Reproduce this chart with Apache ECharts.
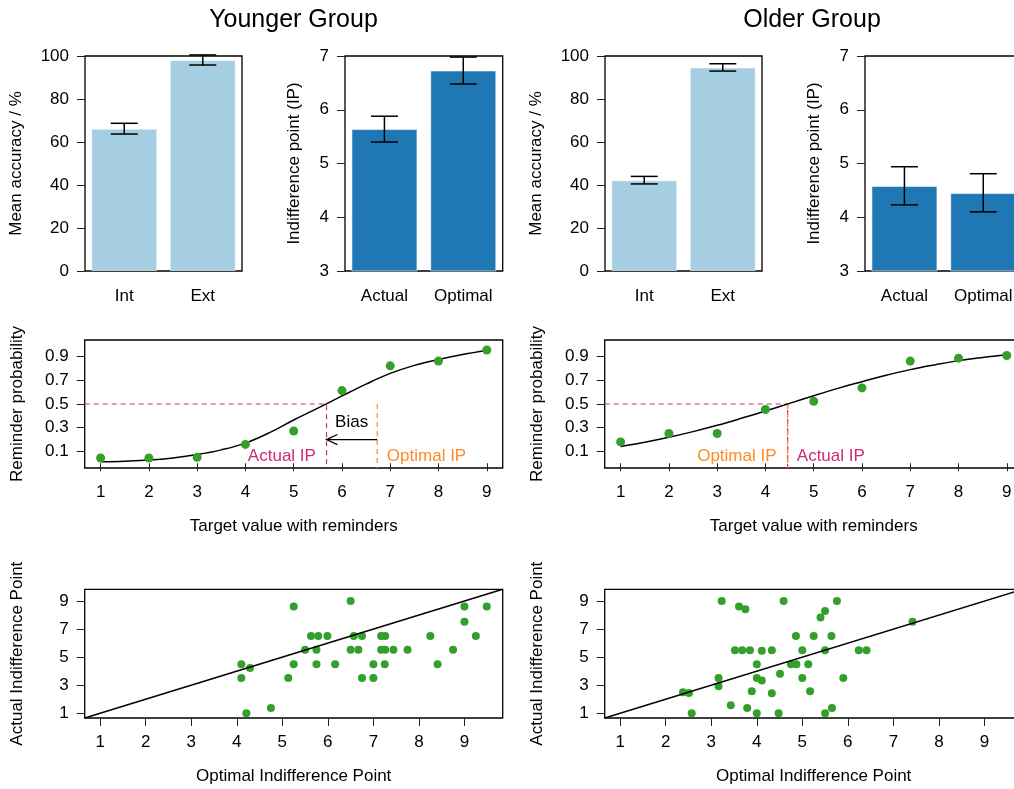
<!DOCTYPE html>
<html>
<head>
<meta charset="utf-8">
<script src="https://cdn.jsdelivr.net/npm/echarts@6/dist/echarts.min.js"></script>
<style>
html,body{margin:0;padding:0;background:#fff;}
#chart{width:1014px;height:789px;}
</style>
</head>
<body>
<div id="chart"></div>
<script>
// ---------------- data ----------------
const accCategories = ['Int', 'Ext'];
const ipCategories = ['Actual', 'Optimal'];

const youngAcc   = [66.2, 98.1];
const youngAccLo = [63.7, 95.8];
const youngAccHi = [68.7, 100.5];
const youngIP    = [5.64, 6.73];
const youngIPLo  = [5.40, 6.48];
const youngIPHi  = [5.88, 6.98];

const oldAcc   = [42.2, 94.7];
const oldAccLo = [40.5, 93.0];
const oldAccHi = [44.0, 96.4];
const oldIP    = [4.58, 4.45];
const oldIPLo  = [4.23, 4.10];
const oldIPHi  = [4.94, 4.81];

const targetValues = [1, 2, 3, 4, 5, 6, 7, 8, 9];
const youngProb = [0.044, 0.044, 0.05, 0.159, 0.272, 0.613, 0.822, 0.862, 0.956];
const oldProb   = [0.18, 0.251, 0.251, 0.454, 0.523, 0.636, 0.862, 0.887, 0.909];

const curveX     = [1, 1.5, 2, 2.5, 3, 3.5, 4, 4.5, 5, 5.5, 6, 6.5, 7, 7.5, 8, 8.5, 9];
const youngCurve = [0.013, 0.018, 0.027, 0.045, 0.073, 0.113, 0.17, 0.258, 0.365, 0.465, 0.568, 0.668, 0.758, 0.826, 0.876, 0.918, 0.952];
const oldCurve   = [0.142, 0.178, 0.22, 0.267, 0.32, 0.379, 0.441, 0.505, 0.57, 0.632, 0.688, 0.742, 0.79, 0.83, 0.866, 0.893, 0.915];

const youngActualIP = 5.68, youngOptimalIP = 6.73;
const oldActualIP = 4.46, oldOptimalIP = 4.46;
const criterion = 0.5;
const biasArrowY = 0.2;

const youngOptimalX = [5.25, 6.50, 9.00, 9.49, 9.00, 5.63, 5.79, 5.99, 6.57, 6.75, 7.17, 7.26, 8.25, 9.25,
  5.50, 5.75, 6.50, 6.67, 7.17, 7.26, 7.44, 7.75, 8.75, 4.10, 4.29, 5.25, 5.75, 6.16, 7.00, 7.25, 8.41,
  4.10, 5.13, 6.75, 7.00, 4.21, 4.75];
const youngActualY  = [8.62, 9.00, 8.62, 8.62, 7.53, 6.51, 6.51, 6.51, 6.51, 6.51, 6.51, 6.51, 6.51, 6.51,
  5.52, 5.52, 5.52, 5.52, 5.52, 5.52, 5.52, 5.52, 5.52, 4.50, 4.22, 4.50, 4.50, 4.50, 4.50, 4.50, 4.50,
  3.51, 3.51, 3.51, 3.51, 1.00, 1.38];

const oldOptimalX = [3.23, 4.59, 5.76, 3.61, 3.75, 5.50, 5.40, 7.42, 4.86, 5.25, 5.64, 3.52, 3.68, 3.85,
  4.11, 4.33, 5.00, 5.50, 6.24, 6.41, 4.00, 4.75, 4.87, 5.13, 4.51, 3.16, 3.16, 4.00, 4.11, 5.00, 5.90,
  2.38, 2.51, 3.89, 4.33, 5.17, 3.43, 3.79, 5.65, 2.57, 4.00, 4.48, 5.50];
const oldActualY  = [9.00, 9.00, 9.00, 8.62, 8.41, 8.29, 7.82, 7.53, 6.51, 6.51, 6.51, 5.50, 5.50, 5.50,
  5.45, 5.50, 5.50, 5.50, 5.50, 5.50, 4.50, 4.50, 4.50, 4.50, 3.82, 3.51, 2.92, 3.51, 3.34, 3.51, 3.51,
  2.49, 2.44, 2.56, 2.42, 2.56, 1.57, 1.38, 1.38, 1.00, 1.00, 1.00, 1.00];

const accTicks = [0, 20, 40, 60, 80, 100];
const ipTicks = [3, 4, 5, 6, 7];
const probTicks = [0.1, 0.3, 0.5, 0.7, 0.9];
const targetTicks = [1, 2, 3, 4, 5, 6, 7, 8, 9];
const ipXTicks = [1, 2, 3, 4, 5, 6, 7, 8, 9];
const ipYTicks = [1, 3, 5, 7, 9];

// ---------------- style ----------------
const FONT = "'Liberation Sans', Arial, Helvetica, sans-serif";
const LIGHT = '#A6CEE3', DARK = '#1F78B4', GREEN = '#33A02C';
const MAGENTA = '#CC2A7C', ORANGE = '#FF8A1F';
const FS = 17;

const probRange = [-0.04, 1.04];
const targetRange = [0.67, 9.33];
const ipRange = [0.66, 9.84];

const grids = [
  {left: 85, top: 56, width: 157, height: 215},
  {left: 345, top: 56, width: 157.7, height: 215},
  {left: 605, top: 56, width: 157, height: 215},
  {left: 865, top: 56, width: 157.7, height: 215},
  {left: 84.7, top: 340, width: 418, height: 128},
  {left: 604.7, top: 340, width: 418, height: 128},
  {left: 84.7, top: 589.3, width: 418, height: 128.7},
  {left: 604.7, top: 589.3, width: 418, height: 128.7}
].map(g => Object.assign({show: true, borderColor: '#000', borderWidth: 1.3, backgroundColor: 'transparent',
  containLabel: false, outerBoundsMode: 'none'}, g));

const labelStyle = {color: '#000', fontSize: FS, fontFamily: FONT};
const tickStyle = {show: true, length: 8, lineStyle: {color: '#222', width: 1}};

function catX(gi, cats) {
  return {type: 'category', gridIndex: gi, data: cats, boundaryGap: true,
    axisLine: {show: false}, axisTick: {show: false},
    axisLabel: Object.assign({margin: 17, interval: 0}, labelStyle), splitLine: {show: false}};
}
function valAxis(gi, min, max, ticks, name, nameGap, fmt) {
  const ax = {type: 'value', gridIndex: gi, min: min, max: max,
    axisLine: {show: false},
    axisTick: Object.assign({customValues: ticks}, tickStyle),
    axisLabel: Object.assign({margin: 16, customValues: ticks, showMinLabel: true, showMaxLabel: true}, labelStyle),
    splitLine: {show: false}};
  if (fmt) ax.axisLabel.formatter = fmt;
  if (name) {
    ax.name = name; ax.nameLocation = 'middle'; ax.nameGap = nameGap;
    ax.nameTextStyle = {color: '#000', fontSize: FS, fontFamily: FONT};
  }
  return ax;
}

const xAxes = [
  catX(0, accCategories),
  catX(1, ipCategories),
  catX(2, accCategories),
  catX(3, ipCategories),
  valAxis(4, targetRange[0], targetRange[1], targetTicks, 'Target value with reminders', 50),
  valAxis(5, targetRange[0], targetRange[1], targetTicks, 'Target value with reminders', 50),
  valAxis(6, ipRange[0], ipRange[1], ipXTicks, 'Optimal Indifference Point', 50),
  valAxis(7, ipRange[0], ipRange[1], ipXTicks, 'Optimal Indifference Point', 50)
];
const yAxes = [
  valAxis(0, 0, 100, accTicks, 'Mean accuracy / %', 60),
  valAxis(1, 3, 7, ipTicks, 'Indifference point (IP)', 42),
  valAxis(2, 0, 100, accTicks, 'Mean accuracy / %', 60),
  valAxis(3, 3, 7, ipTicks, 'Indifference point (IP)', 42),
  valAxis(4, probRange[0], probRange[1], probTicks, 'Reminder probability', 59, v => v.toFixed(1)),
  valAxis(5, probRange[0], probRange[1], probTicks, 'Reminder probability', 59, v => v.toFixed(1)),
  valAxis(6, ipRange[0], ipRange[1], ipYTicks, 'Actual Indifference Point', 59),
  valAxis(7, ipRange[0], ipRange[1], ipYTicks, 'Actual Indifference Point', 59)
];

function barSeries(gi, values, color) {
  return {type: 'bar', xAxisIndex: gi, yAxisIndex: gi, data: values, barWidth: 66,
    itemStyle: {color: color, borderColor: 'rgba(255,255,255,0.55)', borderWidth: 1}, silent: true, z: 2};
}
function errSeries(gi, lo, hi) {
  return {type: 'custom', xAxisIndex: gi, yAxisIndex: gi, z: 5, clip: false,
    data: lo.map((l, i) => [i, l, hi[i]]),
    renderItem: function (params, api) {
      const a = api.coord([api.value(0), api.value(1)]);
      const b = api.coord([api.value(0), api.value(2)]);
      const w = 13.5;
      const st = {stroke: '#000', lineWidth: 1.5};
      return {type: 'group', children: [
        {type: 'line', shape: {x1: a[0], y1: a[1], x2: b[0], y2: b[1]}, style: st},
        {type: 'line', shape: {x1: a[0] - w, y1: a[1], x2: a[0] + w, y2: a[1]}, style: st},
        {type: 'line', shape: {x1: b[0] - w, y1: b[1], x2: b[0] + w, y2: b[1]}, style: st}
      ]};
    }};
}
function pairs(xs, ys) { return xs.map((x, i) => [x, ys[i]]); }
function scatterSeries(gi, xs, ys, size) {
  return {type: 'scatter', xAxisIndex: gi, yAxisIndex: gi, data: pairs(xs, ys), symbolSize: size,
    itemStyle: {color: GREEN, opacity: 1}, z: 6, silent: true};
}
function lineSeries(gi, data, color, width, dash, z) {
  return {type: 'line', xAxisIndex: gi, yAxisIndex: gi, data: data, showSymbol: false, symbol: 'none',
    lineStyle: {color: color, width: width, type: dash || 'solid'}, z: z || 4, silent: true, animation: false};
}
function textSeries(gi, x, y, text, color, align) {
  return {type: 'custom', xAxisIndex: gi, yAxisIndex: gi, z: 7, clip: false, data: [[x, y]],
    renderItem: function (params, api) {
      const p = api.coord([api.value(0), api.value(1)]);
      return {type: 'text', x: p[0], y: p[1],
        style: {text: text, fill: color, fontSize: FS, fontFamily: FONT, align: align, verticalAlign: 'middle'}};
    }};
}
function arrowSeries(gi, xFrom, xTo, y) {
  return {type: 'custom', xAxisIndex: gi, yAxisIndex: gi, z: 7, clip: false, data: [[xFrom, xTo, y]],
    renderItem: function (params, api) {
      const p0 = api.coord([api.value(0), api.value(2)]);
      const p1 = api.coord([api.value(1), api.value(2)]);
      const L = 12, ang = 25 * Math.PI / 180;
      const st = {stroke: '#000', lineWidth: 1.3, fill: null};
      return {type: 'group', children: [
        {type: 'line', shape: {x1: p0[0], y1: p0[1], x2: p1[0], y2: p1[1]}, style: st},
        {type: 'polyline', shape: {points: [
          [p1[0] + L * Math.cos(ang), p1[1] - L * Math.sin(ang)],
          [p1[0], p1[1]],
          [p1[0] + L * Math.cos(ang), p1[1] + L * Math.sin(ang)]]}, style: st}
      ]};
    }};
}

const DASH = [5, 4];
const youngCurveSeries = lineSeries(4, pairs(curveX, youngCurve), '#000', 1.5, 'solid', 4);
youngCurveSeries.smooth = 0.4;
const oldCurveSeries = lineSeries(5, pairs(curveX, oldCurve), '#000', 1.5, 'solid', 4);
oldCurveSeries.smooth = 0.4;

const series = [
  barSeries(0, youngAcc, LIGHT), errSeries(0, youngAccLo, youngAccHi),
  barSeries(1, youngIP, DARK), errSeries(1, youngIPLo, youngIPHi),
  barSeries(2, oldAcc, LIGHT), errSeries(2, oldAccLo, oldAccHi),
  barSeries(3, oldIP, DARK), errSeries(3, oldIPLo, oldIPHi),

  // younger psychometric
  lineSeries(4, [[targetRange[0], criterion], [youngActualIP, criterion], [youngActualIP, probRange[0]]], MAGENTA, 1.2, DASH, 3),
  lineSeries(4, [[youngOptimalIP, criterion], [youngOptimalIP, probRange[0]]], ORANGE, 1.2, DASH, 3),
  youngCurveSeries,
  scatterSeries(4, targetValues, youngProb, 9),
  arrowSeries(4, youngOptimalIP, youngActualIP, biasArrowY),
  textSeries(4, 6.2, 0.348, 'Bias', '#000', 'center'),
  textSeries(4, 5.46, 0.055, 'Actual IP', MAGENTA, 'right'),
  textSeries(4, 6.93, 0.055, 'Optimal IP', ORANGE, 'left'),

  // older psychometric
  lineSeries(5, [[targetRange[0], criterion], [oldActualIP, criterion], [oldActualIP, probRange[0]]], MAGENTA, 1.2, DASH, 3),
  lineSeries(5, [[oldOptimalIP, criterion], [oldOptimalIP, probRange[0]]], ORANGE, 1.4, DASH, 3),
  oldCurveSeries,
  scatterSeries(5, targetValues, oldProb, 9),
  textSeries(5, 4.23, 0.055, 'Optimal IP', ORANGE, 'right'),
  textSeries(5, 4.65, 0.055, 'Actual IP', MAGENTA, 'left'),

  // scatter plots with identity line
  lineSeries(6, [[ipRange[0], ipRange[0]], [ipRange[1], ipRange[1]]], '#000', 1.5, 'solid', 7),
  scatterSeries(6, youngOptimalX, youngActualY, 8),
  lineSeries(7, [[ipRange[0], ipRange[0]], [ipRange[1], ipRange[1]]], '#000', 1.5, 'solid', 7),
  scatterSeries(7, oldOptimalX, oldActualY, 8)
];

const chart = echarts.init(document.getElementById('chart'), null, {renderer: 'canvas'});
chart.setOption({
  animation: false,
  backgroundColor: '#fff',
  grid: grids,
  xAxis: xAxes,
  yAxis: yAxes,
  series: series,
  graphic: [
    {type: 'text', x: 293.5, y: 20, style: {text: 'Younger Group', fontSize: 25, fontFamily: FONT, fill: '#000', align: 'center', verticalAlign: 'middle'}},
    {type: 'text', x: 812, y: 20, style: {text: 'Older Group', fontSize: 25, fontFamily: FONT, fill: '#000', align: 'center', verticalAlign: 'middle'}}
  ]
});
</script>
</body>
</html>
